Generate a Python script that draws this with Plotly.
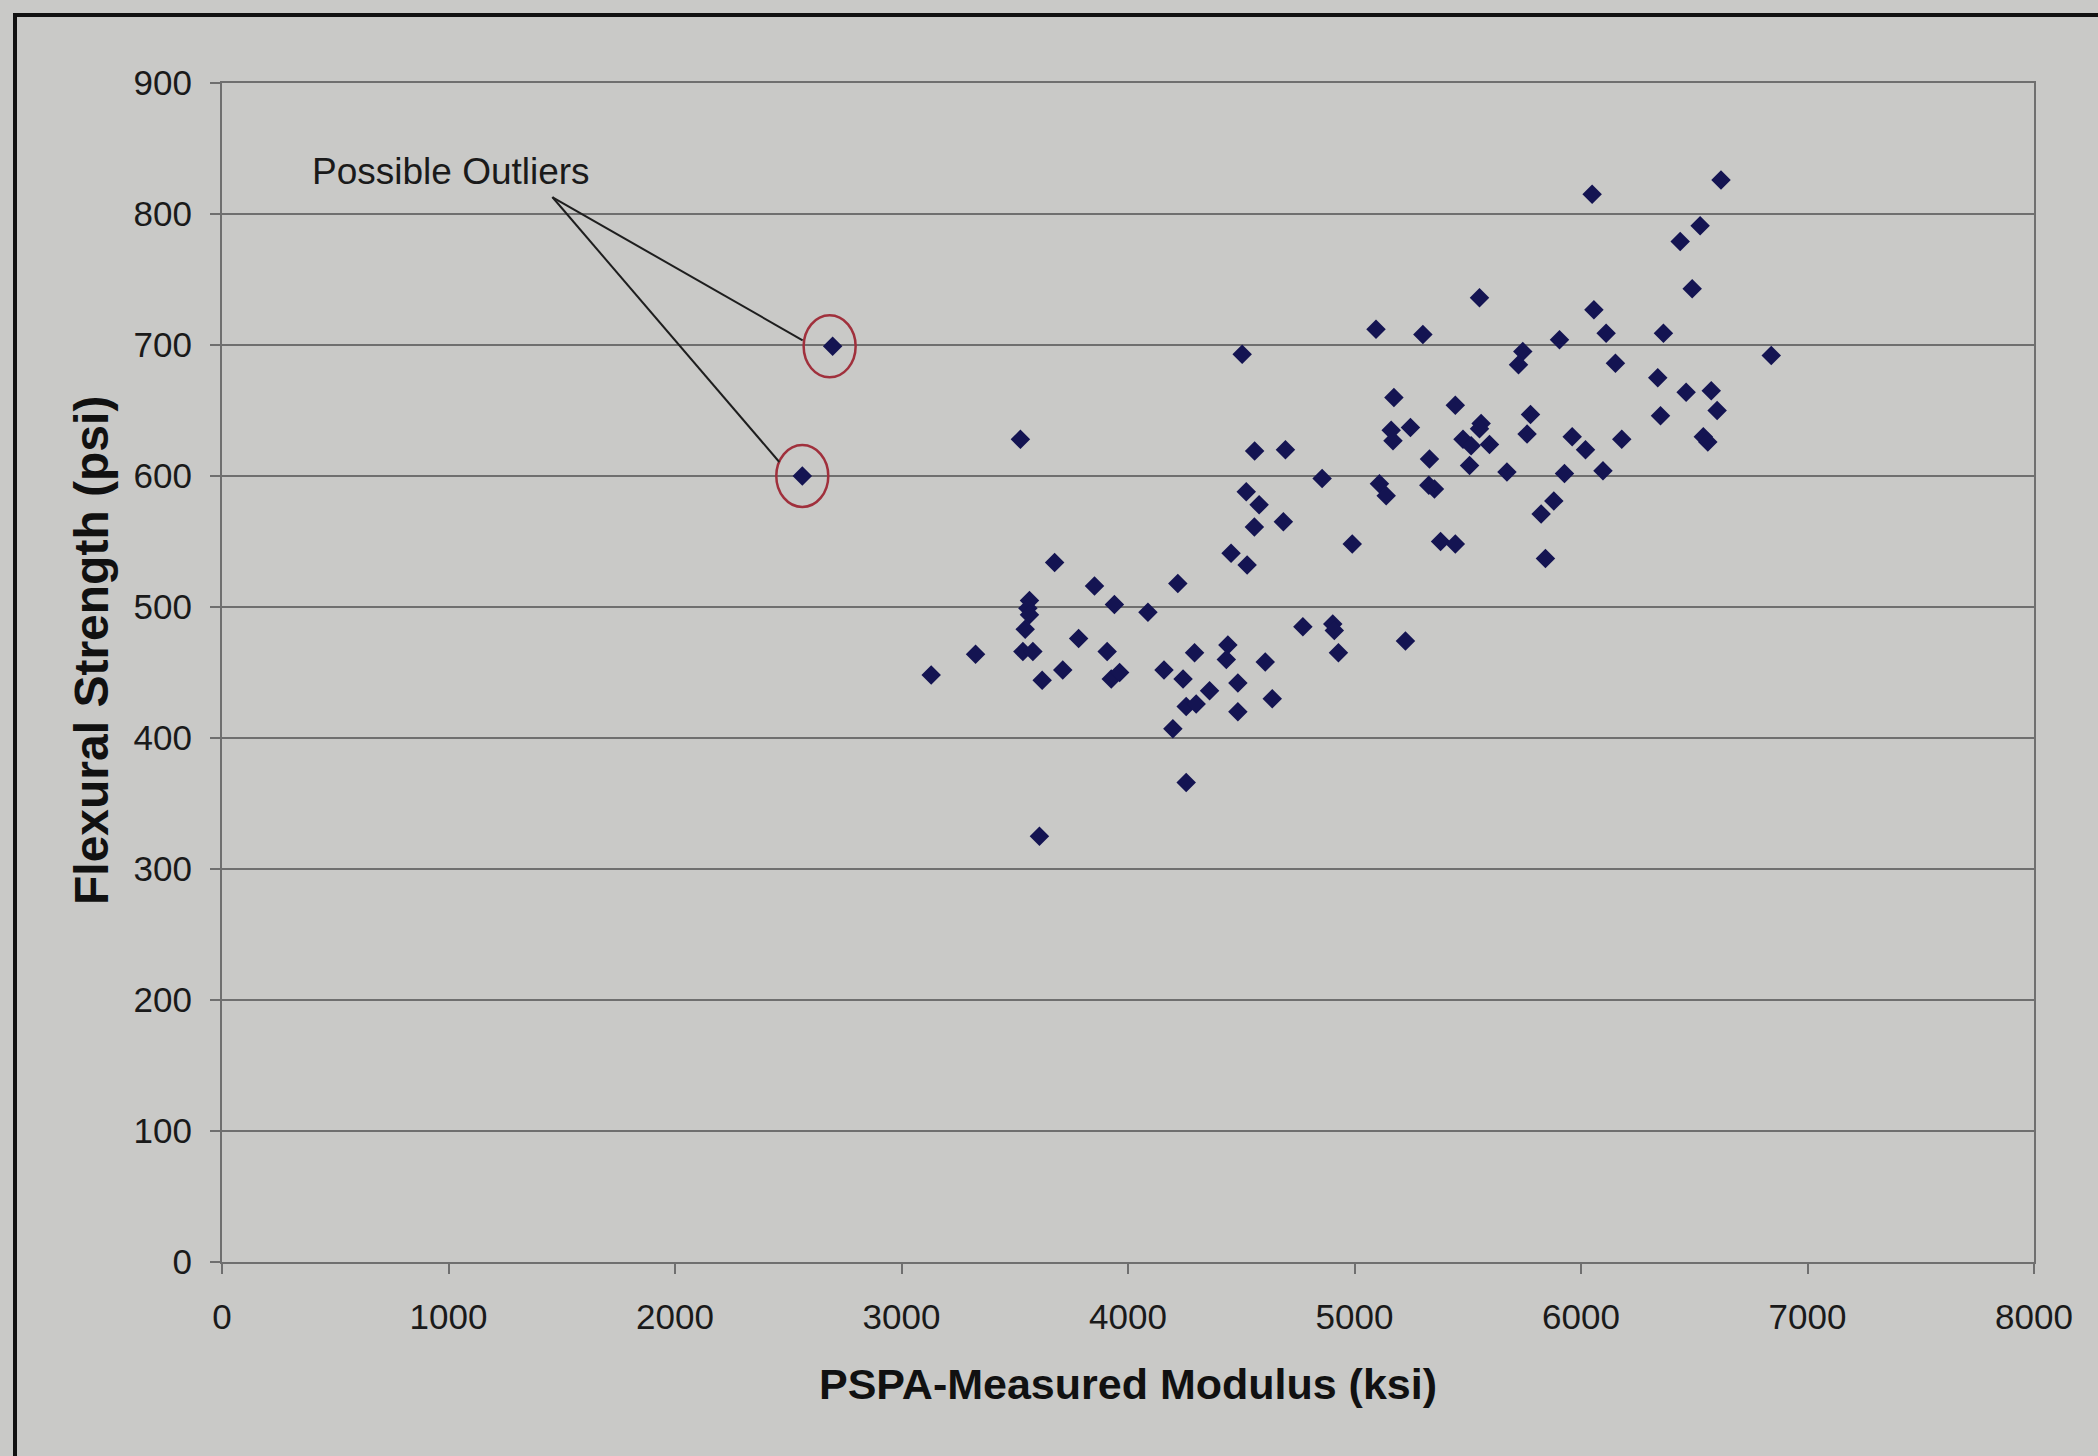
import plotly.graph_objects as go

# ---- data ----
modulus_ksi = [3131, 3327, 3525, 3676, 3565, 3558, 3565, 3546, 3536, 3580,
               3621, 3712, 3782, 3852, 3940, 3908, 3926, 3963, 4088, 4220,
               4159, 4243, 4257, 4301, 4360, 4294, 4441, 4434, 4485, 4485,
               4606, 4637, 4198, 4257, 3609, 4990, 4455, 4526, 4558, 4686,
               4579, 4772, 4904, 4911, 4929, 4504, 5095, 4559, 4695, 4857,
               4522, 5110, 6049, 6618, 6526, 6438, 6491, 5552, 6057, 5302,
               6111, 6364, 5905, 6840, 5743, 5724, 6152, 6339, 6464, 6575,
               6601, 6351, 6540, 6560, 5174, 5445, 5162, 5170, 5247, 5559,
               5552, 5479, 5515, 5596, 5508, 5331, 5673, 5777, 5762, 5961,
               6020, 6180, 6097, 5927, 5140, 5328, 5353, 5880, 5824, 5380,
               5445, 5843, 5225]
flexural_psi = [448, 464, 628, 534, 505, 499, 494, 483, 466, 466,
                444, 452, 476, 516, 502, 466, 445, 450, 496, 518,
                452, 445, 424, 426, 436, 465, 471, 460, 442, 420,
                458, 430, 407, 366, 325, 548, 541, 532, 561, 565,
                578, 485, 487, 482, 465, 693, 712, 619, 620, 598,
                588, 594, 815, 826, 791, 779, 743, 736, 727, 708,
                709, 709, 704, 692, 695, 685, 686, 675, 664, 665,
                650, 646, 630, 626, 660, 654, 635, 627, 637, 640,
                636, 628, 623, 624, 608, 613, 603, 647, 632, 630,
                620, 628, 604, 602, 585, 593, 590, 581, 571, 550,
                548, 537, 474]

outlier_x = [2562, 2696]
outlier_y = [600, 699]

x_ticks = [0, 1000, 2000, 3000, 4000, 5000, 6000, 7000, 8000]
y_ticks = [0, 100, 200, 300, 400, 500, 600, 700, 800, 900]

x_title = "PSPA-Measured Modulus (ksi)"
y_title = "Flexural Strength (psi)"
note_text = "Possible Outliers"

# ---- styling ----
W, H = 2098, 1456
L, R, T, B = 222, 64, 83, 194
BG = "#c9c9c7"
GRID = "#6f6f6f"
MARK = "#141452"
FONT = "Liberation Sans, Arial, sans-serif"

pw = W - L - R
ph = H - T - B

def px_to_paper_x(px):
    return (px - L) / pw

def px_to_paper_y(py):
    return (H - B - py) / ph

fig = go.Figure()
fig.add_trace(go.Scatter(
    x=modulus_ksi + outlier_x, y=flexural_psi + outlier_y,
    mode="markers",
    marker=dict(symbol="diamond", size=15, color=MARK, line=dict(width=0)),
    showlegend=False, hoverinfo="x+y"))

shapes = []
# circles around the outliers (pixel-sized, anchored on the data)
circ_off = [0, -3]
for i in range(2):
    shapes.append(dict(type="circle", xref="x", yref="y",
                       xsizemode="pixel", ysizemode="pixel",
                       xanchor=outlier_x[i], yanchor=outlier_y[i],
                       x0=-26 + circ_off[i], x1=26 + circ_off[i], y0=-31, y1=31,
                       line=dict(color="#a0303c", width=2.5)))
# leader lines from label to circles
leaders = [(-250, 279, -23, 14), (-280, 149, -30, 6)]
for i in range(2):
    x0, y0, x1, y1 = leaders[i]
    shapes.append(dict(type="line", xref="x", yref="y",
                       xsizemode="pixel", ysizemode="pixel",
                       xanchor=outlier_x[i], yanchor=outlier_y[i],
                       x0=x0, y0=y0, x1=x1, y1=y1,
                       line=dict(color="#1e1e1e", width=2)))
# outer frame (left and top edges of the scanned chart border)
shapes.append(dict(type="line", xref="paper", yref="paper",
                   x0=px_to_paper_x(15), x1=px_to_paper_x(15),
                   y0=px_to_paper_y(14), y1=px_to_paper_y(1456),
                   line=dict(color="#111111", width=4)))
shapes.append(dict(type="line", xref="paper", yref="paper",
                   x0=px_to_paper_x(13), x1=px_to_paper_x(2098),
                   y0=px_to_paper_y(15), y1=px_to_paper_y(15),
                   line=dict(color="#111111", width=4)))

annotations = [
    dict(text=note_text, x=px_to_paper_x(451), y=px_to_paper_y(172),
         xref="paper", yref="paper", showarrow=False,
         font=dict(family=FONT, size=37, color="#1a1a1a"),
         xanchor="center", yanchor="middle"),
    dict(text="<b>%s</b>" % x_title, x=0.5, y=px_to_paper_y(1384),
         xref="paper", yref="paper", showarrow=False,
         font=dict(family=FONT, size=43, color="#111111"),
         xanchor="center", yanchor="middle"),
    dict(text="<b>%s</b>" % y_title, x=px_to_paper_x(91), y=px_to_paper_y(651),
         xref="paper", yref="paper", showarrow=False, textangle=-90,
         font=dict(family=FONT, size=48, color="#111111"),
         xanchor="center", yanchor="middle"),
]

fig.update_layout(
    width=W, height=H, autosize=False,
    margin=dict(l=L, r=R, t=T, b=B, pad=0),
    paper_bgcolor=BG, plot_bgcolor=BG,
    font=dict(family=FONT, size=35, color="#1a1a1a"),
    shapes=shapes, annotations=annotations,
    xaxis=dict(range=[0, 8000], tickvals=x_ticks, ticktext=[str(v) for v in x_ticks],
               showgrid=False, zeroline=False,
               showline=True, linecolor=GRID, linewidth=2, mirror=True,
               ticks="outside", ticklen=10, tickcolor=GRID, tickwidth=2,
               ticklabelstandoff=13,
               tickfont=dict(family=FONT, size=35, color="#1a1a1a")),
    yaxis=dict(range=[0, 900], tickvals=y_ticks, ticktext=[str(v) for v in y_ticks],
               showgrid=True, gridcolor=GRID, gridwidth=2, zeroline=False,
               showline=True, linecolor=GRID, linewidth=2, mirror=True,
               ticks="outside", ticklen=10, tickcolor=GRID, tickwidth=2,
               ticklabelstandoff=11,
               tickfont=dict(family=FONT, size=35, color="#1a1a1a")),
)

fig.write_html(
    "out.html",
    config={"displayModeBar": False},
    post_script="document.body.style.margin='0';document.body.style.padding='0';"
                "document.body.style.overflow='hidden';"
                "document.documentElement.style.background='%s';" % BG,
)
